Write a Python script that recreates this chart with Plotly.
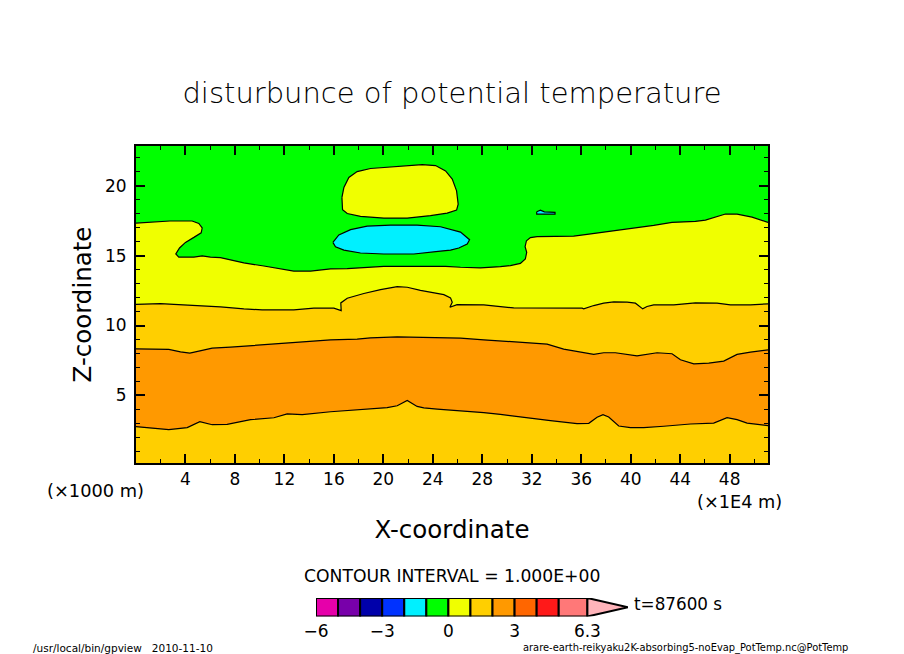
#!/usr/bin/env python
"""Disturbance of potential temperature, redrawn from contour lines read off the gpview picture."""
import plotly.graph_objects as go

WIDTH = 904
HEIGHT = 654
FONT = "DejaVu Sans"

# axes
x_range = [0, 51.1]
y_range = [0.16, 22.85]
x_ticks = [4, 8, 12, 16, 20, 24, 28, 32, 36, 40, 44, 48]
x_minor = [2, 6, 10, 14, 18, 22, 26, 30, 34, 38, 42, 46, 50]
y_ticks = [5, 10, 15, 20]
y_minor = [1, 2, 3, 4, 6, 7, 8, 9, 11, 12, 13, 14, 16, 17, 18, 19, 21, 22]

# contour between the 0-1 and 1-2 bands (green / yellow)
yg_x = [0, 1.17, 2.74, 4.54, 5.08, 5.35, 5.27, 4.68, 4.00, 3.52, 3.22, 3.46, 4.68, 5.35, 6.02,
        6.83, 7.64, 8.72, 10.34, 11.42, 12.76, 14.11, 15.73, 17.08, 18.42, 20.04, 22.47, 25.03,
        26.24, 27.85, 29.46, 30.27, 31.08, 31.48, 31.59, 31.46, 31.57, 31.89, 32.43, 35.39,
        36.47, 37.82, 39.30, 40.65, 41.86, 43.34, 45.23, 46.04, 46.85, 47.66, 48.60, 49.81, 51.1]
yg_z = [17.33, 17.40, 17.48, 17.48, 17.31, 16.98, 16.64, 16.31, 15.95, 15.55, 15.12, 14.90, 14.90,
        14.98, 14.90, 14.86, 14.69, 14.48, 14.26, 14.10, 13.90, 13.90, 14.05, 14.07, 14.17, 14.24,
        14.24, 14.24, 14.17, 14.12, 14.21, 14.29, 14.45, 14.76, 15.24, 15.64, 16.07, 16.29, 16.36,
        16.40, 16.52, 16.67, 16.86, 17.00, 17.17, 17.38, 17.45, 17.55, 17.76, 17.98, 17.98, 17.76,
        17.38]

# yellow patch aloft
patch_x = [16.65, 16.81, 17.21, 17.88, 18.96, 21.12, 23.14, 24.22, 25.03, 25.57, 25.92, 26.05,
           25.92, 25.16, 23.81, 21.93, 20.04, 18.15, 17.08, 16.70, 16.65]
patch_z = [19.17, 19.88, 20.60, 21.02, 21.24, 21.36, 21.52, 21.45, 21.07, 20.48, 19.64, 18.69,
           18.26, 18.05, 17.86, 17.69, 17.69, 17.81, 18.02, 18.29, 19.17]

# cyan patch below it
cold_x = [15.92, 16.40, 17.35, 18.69, 20.58, 22.73, 24.62, 25.43, 26.24, 26.97, 26.78, 26.10,
          25.43, 24.62, 22.47, 20.04, 18.15, 16.81, 16.13, 15.92]
cold_z = [15.95, 16.48, 16.86, 17.12, 17.19, 17.19, 17.07, 16.90, 16.69, 16.14, 15.83, 15.55,
          15.40, 15.33, 15.12, 15.12, 15.19, 15.40, 15.64, 15.95]

# tiny cyan sliver
sliver_x = [32.40, 32.70, 33.02, 33.88, 33.88, 32.40, 32.40]
sliver_z = [18.14, 18.26, 18.14, 18.10, 17.98, 17.98, 18.14]

# contour gold / yellow
gy_x = [0, 1.98, 3.06, 5.22, 6.83, 8.72, 10.20, 12.76, 14.38, 16.00, 16.59, 16.56, 17.08, 18.42,
        19.77, 21.12, 21.93, 23.00, 24.89, 25.43, 25.57, 25.38, 25.83, 25.96, 28.12, 29.19, 30.54,
        36.07, 36.20, 37.01, 37.82, 38.63, 39.71, 40.38, 40.65, 40.97, 41.32, 41.86, 43.48, 45.23,
        46.98, 48.06, 49.68, 51.1]
gy_z = [11.52, 11.57, 11.52, 11.43, 11.33, 11.19, 11.12, 11.12, 11.24, 11.24, 11.07, 11.62, 11.95,
        12.29, 12.57, 12.79, 12.74, 12.52, 12.21, 11.98, 11.67, 11.31, 11.43, 11.50, 11.48, 11.36,
        11.26, 11.24, 11.19, 11.43, 11.60, 11.69, 11.67, 11.60, 11.43, 11.19, 11.36, 11.48, 11.48,
        11.62, 11.60, 11.48, 11.48, 11.55]

# top of the orange band
up_x = [0, 2.65, 3.60, 4.35, 5.08, 6.16, 7.64, 9.53, 11.42, 13.03, 15.73, 17.88, 18.96, 21.12,
        23.27, 26.24, 28.12, 30.27, 33.24, 34.58, 36.20, 37.01, 37.82, 38.76, 40.51, 42.13, 43.34,
        44.02, 45.10, 46.31, 47.52, 48.60, 49.68, 51.1]
up_z = [8.33, 8.29, 8.12, 8.02, 8.17, 8.38, 8.45, 8.57, 8.71, 8.81, 8.98, 9.02, 9.12, 9.19, 9.14,
        9.10, 8.98, 8.83, 8.67, 8.31, 8.02, 7.93, 8.05, 8.05, 7.83, 8.05, 7.98, 7.55, 7.26, 7.31,
        7.45, 7.93, 8.10, 8.26]

# bottom of the orange band
low_x = [0, 1.44, 2.65, 4.14, 4.68, 5.16, 6.16, 7.37, 9.26, 11.15, 12.22, 13.44, 15.73, 17.88,
         20.31, 21.12, 21.93, 22.73, 23.27, 24.35, 26.24, 28.12, 29.46, 31.62, 33.51, 35.66, 36.61,
         37.28, 37.76, 38.22, 39.03, 39.98, 41.05, 42.67, 44.83, 46.71, 47.79, 48.60, 49.41, 51.1]
low_z = [2.76, 2.62, 2.55, 2.69, 2.93, 3.12, 2.90, 2.93, 3.26, 3.40, 3.67, 3.62, 3.83, 3.95, 4.12,
         4.26, 4.64, 4.21, 4.10, 4.02, 3.90, 3.76, 3.64, 3.38, 3.19, 2.98, 3.00, 3.43, 3.62, 3.45,
         2.81, 2.69, 2.69, 2.79, 2.95, 3.02, 3.40, 3.26, 3.02, 2.83]

# colour bar
cbar_edges = [-6, -5, -4, -3, -2, -1, 0, 1, 2, 3, 4, 5, 6.3]
cbar_colors = ["#e600aa", "#7800aa", "#0000aa", "#0032ff", "#00f0ff", "#00ff00", "#f0ff00",
               "#ffcf00", "#ff9900", "#ff6600", "#ff1919", "#ff7878"]
cbar_over = "#ffb4ba"
cbar_tip = 8.14
cbar_ticks = [-6, -3, 0, 3, 6.3]
cbar_labels = ["\u22126", "\u22123", "0", "3", "6.3"]

GREEN = cbar_colors[5]
YELLOW = cbar_colors[6]
GOLD = cbar_colors[7]
ORANGE = cbar_colors[8]
CYAN = cbar_colors[4]


def region(xs, zs, color):
    return go.Scatter(x=xs, y=zs, mode="lines", fill="toself", fillcolor=color,
                      line=dict(width=0), hoverinfo="skip", showlegend=False)


def contour(xs, zs):
    return go.Scatter(x=xs, y=zs, mode="lines", line=dict(color="black", width=1.2),
                      hoverinfo="skip", showlegend=False)


def label(text, px, py, size, anchor="center"):
    return dict(text=text, x=px / WIDTH, y=1 - py / HEIGHT, xref="paper", yref="paper",
                xanchor=anchor, yanchor="middle", showarrow=False,
                font=dict(family=FONT, size=size, color="black"))


fig = go.Figure()

# Paint the bands from the bottom up
fig.add_trace(region([x_range[0], x_range[1], x_range[1], x_range[0]],
                     [y_range[0], y_range[0], y_range[1], y_range[1]], GOLD))
fig.add_trace(region(up_x + low_x[::-1], up_z + low_z[::-1], ORANGE))
fig.add_trace(region(gy_x + [x_range[1], x_range[0]], gy_z + [y_range[1], y_range[1]], YELLOW))
fig.add_trace(region(yg_x + [x_range[1], x_range[0]], yg_z + [y_range[1], y_range[1]], GREEN))
fig.add_trace(region(patch_x, patch_z, YELLOW))
fig.add_trace(region(cold_x, cold_z, CYAN))
fig.add_trace(region(sliver_x, sliver_z, CYAN))

for xs, zs in [(low_x, low_z), (up_x, up_z), (gy_x, gy_z), (yg_x, yg_z),
               (patch_x, patch_z), (cold_x, cold_z), (sliver_x, sliver_z)]:
    fig.add_trace(contour(xs, zs))

# Colour bar
fig.add_trace(go.Bar(
    base=cbar_edges[:-1],
    x=[b - a for a, b in zip(cbar_edges[:-1], cbar_edges[1:])],
    y=[0] * len(cbar_colors),
    width=1,
    orientation="h",
    marker=dict(color=cbar_colors, line=dict(color="black", width=2)),
    hoverinfo="skip",
    showlegend=False,
    xaxis="x2",
    yaxis="y2",
))
fig.add_trace(go.Scatter(
    x=[cbar_edges[-1], cbar_tip, cbar_edges[-1], cbar_edges[-1]],
    y=[0.5, 0, -0.5, 0.5],
    mode="lines",
    fill="toself",
    fillcolor=cbar_over,
    line=dict(color="black", width=2),
    cliponaxis=False,
    hoverinfo="skip",
    showlegend=False,
    xaxis="x2",
    yaxis="y2",
))

frame = dict(showline=True, linecolor="black", linewidth=2, mirror="allticks", ticks="inside",
             ticklen=9, tickwidth=2, tickcolor="black", showgrid=False, zeroline=False,
             tickfont=dict(family=FONT, size=17, color="black"), tickmode="array")
minor = dict(ticks="inside", ticklen=4, tickwidth=1, tickcolor="black", showgrid=False,
             tickmode="array")

fig.update_layout(
    template="none",  # the default template switches on automargin, which moves the axes
    width=WIDTH,
    height=HEIGHT,
    margin=dict(l=0, r=0, t=0, b=0),
    paper_bgcolor="white",
    plot_bgcolor="white",
    showlegend=False,
    title=dict(text="disturbunce of potential temperature", x=0.5, y=1 - 93 / HEIGHT,
               xanchor="center", yanchor="middle",
               font=dict(family=FONT, size=29, color="black", weight=200)),
    xaxis=dict(frame, domain=[136 / WIDTH, 768 / WIDTH], range=x_range, tickvals=x_ticks,
               ticktext=[str(v) for v in x_ticks], minor=dict(minor, tickvals=x_minor),
               title=dict(text="X-coordinate", standoff=32,
                          font=dict(family=FONT, size=24.5, color="black"))),
    yaxis=dict(frame, domain=[1 - 463 / HEIGHT, 1 - 146 / HEIGHT], range=y_range, tickvals=y_ticks,
               ticktext=[str(v) for v in y_ticks], minor=dict(minor, tickvals=y_minor),
               ticklabelstandoff=4,
               title=dict(text="Z-coordinate", standoff=6,
                          font=dict(family=FONT, size=24.5, color="black"))),
    xaxis2=dict(domain=[316 / WIDTH, 628 / WIDTH], range=[cbar_edges[0], cbar_tip], anchor="y2",
                tickmode="array", tickvals=cbar_ticks, ticktext=cbar_labels, ticks="",
                ticklabelstandoff=2, showgrid=False, zeroline=False, showline=False,
                tickfont=dict(family=FONT, size=17, color="black")),
    yaxis2=dict(domain=[1 - 616.5 / HEIGHT, 1 - 598 / HEIGHT], range=[-0.5, 0.5], anchor="x2",
                showticklabels=False, ticks="", showgrid=False, zeroline=False, showline=False),
    annotations=[
        label("(\u00d71000 m)", 45, 490, 17.8, "left"),
        label("(\u00d71E4 m)", 695, 502, 17.7, "left"),
        label("CONTOUR INTERVAL = 1.000E+00", 452, 576, 17.2),
        label("t=87600 s", 632, 604, 16.8, "left"),
        label("/usr/local/bin/gpview   2010-11-10", 31, 648, 10.5, "left"),
        label("arare-earth-reikyaku2K-absorbing5-noEvap_PotTemp.nc@PotTemp", 521, 648, 9.9, "left"),
    ],
)

# The page's default body margin would shift the whole figure by 8px
fig.write_html("out.html", config={"displayModeBar": False},
               post_script="document.body.style.margin = '0';")
